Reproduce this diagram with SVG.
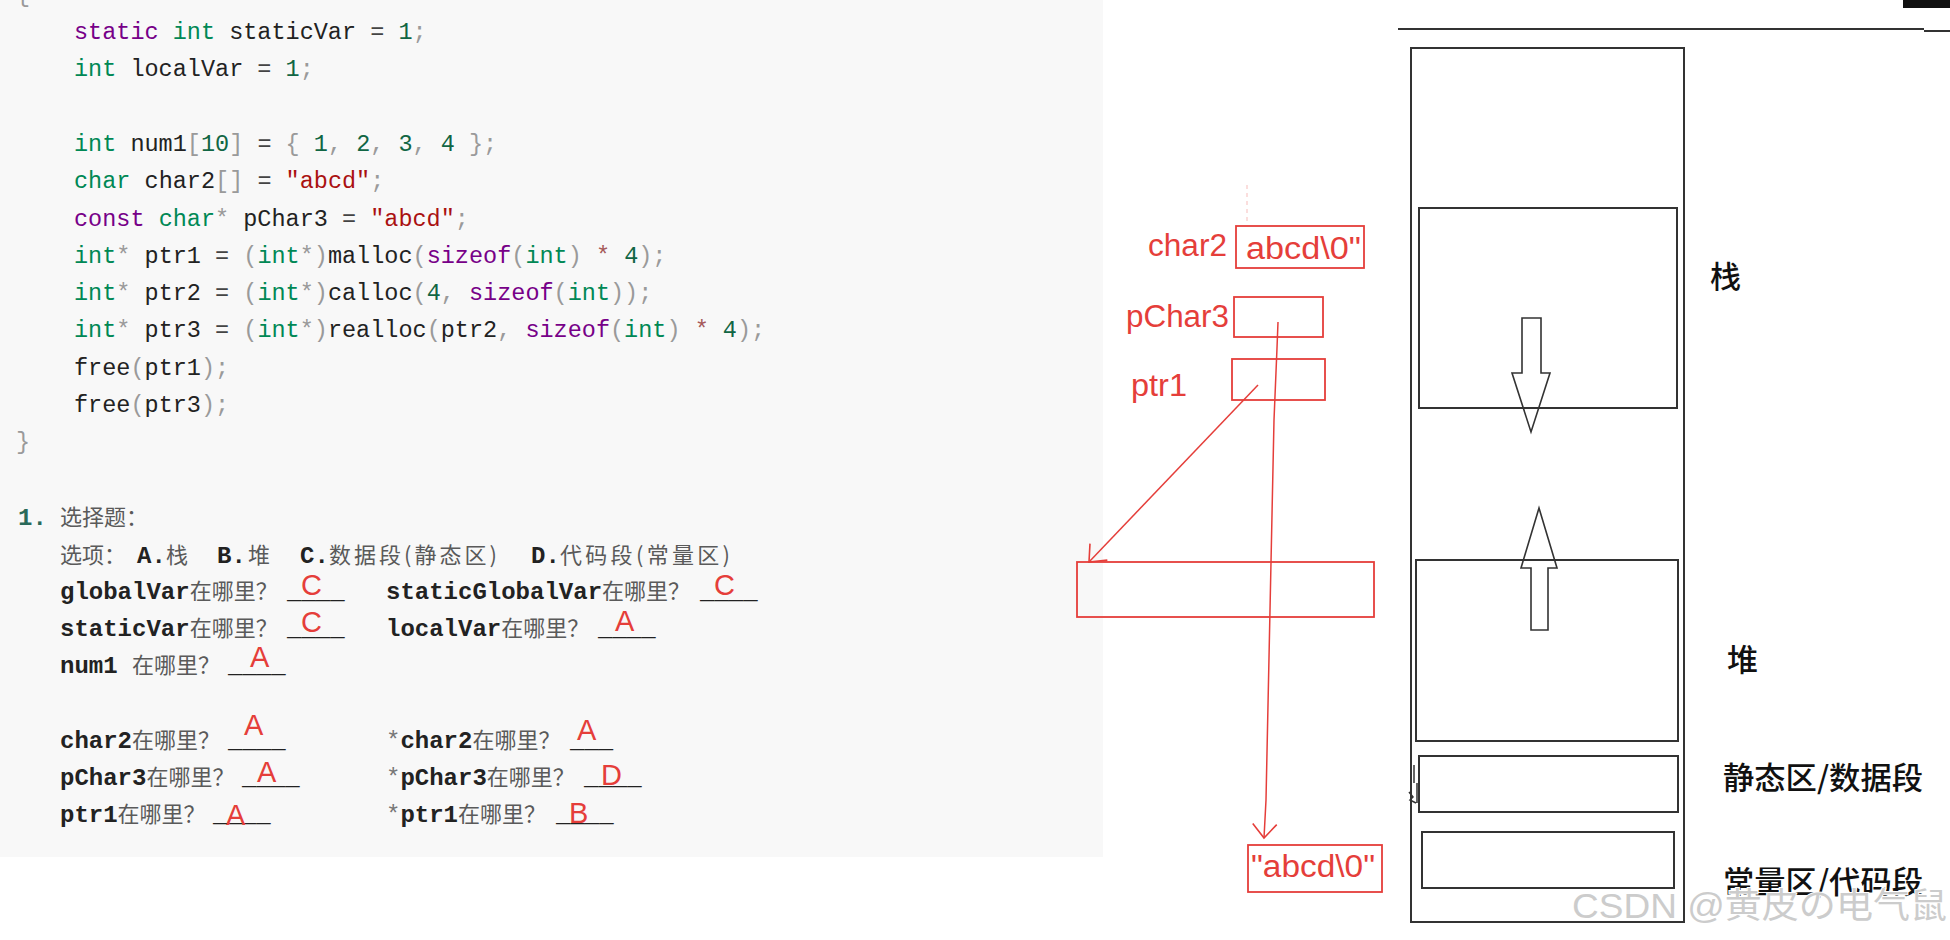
<svg xmlns="http://www.w3.org/2000/svg" width="1950" height="940" viewBox="0 0 1950 940">
<style>
.code{font-family:"Liberation Mono","DejaVu Sans Mono",monospace;font-size:23.5px;fill:#222;white-space:pre}
.kw{fill:#770088}.ty{fill:#008855}.nu{fill:#116644}.st{fill:#aa1111}.pu{fill:#9a9a9a}.op{fill:#a65a5a}.eq{fill:#444}
.qa{font-family:"Liberation Mono","DejaVu Sans Mono",monospace;font-size:24px;font-weight:bold;fill:#222;white-space:pre}
.qc{font-family:"Noto Sans CJK SC","Noto Sans CJK JP",sans-serif;font-size:22px;fill:#5a5a5a;font-weight:normal}
.star{font-weight:normal;fill:#777}
.ans{font-family:"Liberation Sans","Noto Sans",sans-serif;font-size:29px;fill:#e53e3a}
.blk{fill:none;stroke:#333;stroke-width:2}
.red{fill:none;stroke:#e53e3a;stroke-width:1.8}
.rt{font-family:"Liberation Sans","Noto Sans",sans-serif;font-size:31px;fill:#e53e3a}
.lbl{font-family:"Noto Sans CJK SC","Noto Sans CJK JP",sans-serif;font-size:31px;font-weight:500;fill:#111}
.wm{font-family:"Liberation Sans","Noto Sans CJK SC","Noto Sans CJK JP",sans-serif;font-size:35px;fill:#cccccc;stroke:#fff;stroke-width:2;paint-order:stroke}
</style>
<defs>
<marker id="vh" markerUnits="userSpaceOnUse" markerWidth="30" markerHeight="30" refX="0" refY="0" viewBox="-20 -15 25 30" orient="auto">
<path d="M-14,-12 L0,0 L-14,12" fill="none" stroke="#e53e3a" stroke-width="1.6"/>
</marker>
</defs>
<rect x="0" y="0" width="1950" height="940" fill="#fff"/>
<rect x="0" y="0" width="1103" height="857" fill="#f8f8f8"/>

<g id="code" xml:space="preserve">
<text class="code" x="16" y="2"><tspan class="pu">{</tspan></text>
<text class="code" x="74" y="39"><tspan class="kw">static</tspan> <tspan class="ty">int</tspan> staticVar <tspan class="eq">=</tspan> <tspan class="nu">1</tspan><tspan class="pu">;</tspan></text>
<text class="code" x="74" y="76.3"><tspan class="ty">int</tspan> localVar <tspan class="eq">=</tspan> <tspan class="nu">1</tspan><tspan class="pu">;</tspan></text>
<text class="code" x="74" y="150.9"><tspan class="ty">int</tspan> num1<tspan class="pu">[</tspan><tspan class="nu">10</tspan><tspan class="pu">]</tspan> <tspan class="eq">=</tspan> <tspan class="pu">{</tspan> <tspan class="nu">1</tspan><tspan class="pu">,</tspan> <tspan class="nu">2</tspan><tspan class="pu">,</tspan> <tspan class="nu">3</tspan><tspan class="pu">,</tspan> <tspan class="nu">4</tspan> <tspan class="pu">};</tspan></text>
<text class="code" x="74" y="188.2"><tspan class="ty">char</tspan> char2<tspan class="pu">[]</tspan> <tspan class="eq">=</tspan> <tspan class="st">"abcd"</tspan><tspan class="pu">;</tspan></text>
<text class="code" x="74" y="225.5"><tspan class="kw">const</tspan> <tspan class="ty">char</tspan><tspan class="pu">*</tspan> pChar3 <tspan class="eq">=</tspan> <tspan class="st">"abcd"</tspan><tspan class="pu">;</tspan></text>
<text class="code" x="74" y="262.8"><tspan class="ty">int</tspan><tspan class="pu">*</tspan> ptr1 <tspan class="eq">=</tspan> <tspan class="pu">(</tspan><tspan class="ty">int</tspan><tspan class="pu">*)</tspan>malloc<tspan class="pu">(</tspan><tspan class="kw">sizeof</tspan><tspan class="pu">(</tspan><tspan class="ty">int</tspan><tspan class="pu">)</tspan> <tspan class="op">*</tspan> <tspan class="nu">4</tspan><tspan class="pu">);</tspan></text>
<text class="code" x="74" y="300.1"><tspan class="ty">int</tspan><tspan class="pu">*</tspan> ptr2 <tspan class="eq">=</tspan> <tspan class="pu">(</tspan><tspan class="ty">int</tspan><tspan class="pu">*)</tspan>calloc<tspan class="pu">(</tspan><tspan class="nu">4</tspan><tspan class="pu">,</tspan> <tspan class="kw">sizeof</tspan><tspan class="pu">(</tspan><tspan class="ty">int</tspan><tspan class="pu">));</tspan></text>
<text class="code" x="74" y="337.4"><tspan class="ty">int</tspan><tspan class="pu">*</tspan> ptr3 <tspan class="eq">=</tspan> <tspan class="pu">(</tspan><tspan class="ty">int</tspan><tspan class="pu">*)</tspan>realloc<tspan class="pu">(</tspan>ptr2<tspan class="pu">,</tspan> <tspan class="kw">sizeof</tspan><tspan class="pu">(</tspan><tspan class="ty">int</tspan><tspan class="pu">)</tspan> <tspan class="op">*</tspan> <tspan class="nu">4</tspan><tspan class="pu">);</tspan></text>
<text class="code" x="74" y="374.7">free<tspan class="pu">(</tspan>ptr1<tspan class="pu">);</tspan></text>
<text class="code" x="74" y="412">free<tspan class="pu">(</tspan>ptr3<tspan class="pu">);</tspan></text>
<text class="code" x="16" y="449.3"><tspan class="pu">}</tspan></text>
</g>

<g id="questions" xml:space="preserve">
<text x="18" y="525"><tspan class="qa" style="fill:#2a6a5a">1.</tspan><tspan class="qc" x="60">选择题：</tspan></text>
<text y="563"><tspan class="qc" x="60">选项：</tspan><tspan class="qa" x="137">A.</tspan><tspan class="qc" x="166">栈</tspan><tspan class="qa" x="217">B.</tspan><tspan class="qc" x="248">堆</tspan><tspan class="qa" x="300">C.</tspan></text>
<text class="qc" x="329" y="563" textLength="168" lengthAdjust="spacing">数据段(静态区)</text>
<text class="qa" x="531" y="563">D.</text>
<text class="qc" x="560" y="563" textLength="170" lengthAdjust="spacing">代码段(常量区)</text>

<text y="599"><tspan class="qa" x="60">globalVar</tspan><tspan class="qc">在哪里？</tspan><tspan class="qa" x="287">____</tspan></text>
<text y="599"><tspan class="qa" x="386">staticGlobalVar</tspan><tspan class="qc">在哪里？</tspan><tspan class="qa" x="700">____</tspan></text>
<text y="636"><tspan class="qa" x="60">staticVar</tspan><tspan class="qc">在哪里？</tspan><tspan class="qa" x="287">____</tspan></text>
<text y="636"><tspan class="qa" x="386">localVar</tspan><tspan class="qc">在哪里？</tspan><tspan class="qa" x="598">____</tspan></text>
<text y="673"><tspan class="qa" x="60">num1 </tspan><tspan class="qc">在哪里？</tspan><tspan class="qa" x="228">____</tspan></text>
<text y="748"><tspan class="qa" x="60">char2</tspan><tspan class="qc">在哪里？</tspan><tspan class="qa" x="228">____</tspan></text>
<text y="748"><tspan class="qa star" x="386">*</tspan><tspan class="qa">char2</tspan><tspan class="qc">在哪里？</tspan><tspan class="qa" x="570">___</tspan></text>
<text y="785"><tspan class="qa" x="60">pChar3</tspan><tspan class="qc">在哪里？</tspan><tspan class="qa" x="242">____</tspan></text>
<text y="785"><tspan class="qa star" x="386">*</tspan><tspan class="qa">pChar3</tspan><tspan class="qc">在哪里？</tspan><tspan class="qa" x="584">____</tspan></text>
<text y="822"><tspan class="qa" x="60">ptr1</tspan><tspan class="qc">在哪里？</tspan><tspan class="qa" x="213">____</tspan></text>
<text y="822"><tspan class="qa star" x="386">*</tspan><tspan class="qa">ptr1</tspan><tspan class="qc">在哪里？</tspan><tspan class="qa" x="556">____</tspan></text>
</g>

<g id="answers">
<text class="ans" x="301" y="595">C</text>
<text class="ans" x="714" y="595">C</text>
<text class="ans" x="301" y="632">C</text>
<text class="ans" x="615" y="631">A</text>
<text class="ans" x="250" y="667">A</text>
<text class="ans" x="244" y="735">A</text>
<text class="ans" x="577" y="740">A</text>
<text class="ans" x="257" y="782">A</text>
<text class="ans" x="601" y="785">D</text>
<text class="ans" x="226" y="825">A</text>
<text class="ans" x="569" y="823">B</text>
</g>

<g id="memory-layout">
<path class="blk" d="M1398,29 L1924,29 M1924,31 L1950,31"/>
<rect x="1903" y="0" width="47" height="8" fill="#111"/>
<rect id="outer" class="blk" x="1411" y="48" width="273" height="874"/>
<g id="stack"><rect class="blk" x="1419" y="208" width="258" height="200"/>
<text class="lbl" x="1710" y="288">栈</text></g>
<g id="heap"><rect class="blk" x="1416" y="560" width="262" height="181"/>
<text class="lbl" x="1727" y="671">堆</text></g>
<g id="static"><rect class="blk" x="1419" y="756" width="259" height="56"/>
<text class="lbl" x="1723" y="789" textLength="200" lengthAdjust="spacingAndGlyphs">静态区/数据段</text></g>
<g id="const"><rect class="blk" x="1422" y="832" width="252" height="56"/>
<text class="lbl" x="1723" y="893" textLength="200" lengthAdjust="spacingAndGlyphs">常量区/代码段</text></g>
<polygon id="stack-grow" fill="none" stroke="#333" stroke-width="1.6" points="1522,318 1541,318 1541,373 1550,373 1531,432 1512,373 1522,373"/>
<polygon id="heap-grow" fill="none" stroke="#333" stroke-width="1.6" points="1539,508 1557,568 1548,568 1548,630 1531,630 1531,568 1521,568"/>
<path d="M1414,765 L1414,783 M1417,783 L1417,803 M1409,792 L1413,797 L1410,800 L1416,803" fill="none" stroke="#333" stroke-width="1.5"/>
</g>

<g id="char2">
<text class="rt" x="1148" y="256" textLength="79" lengthAdjust="spacingAndGlyphs">char2</text>
<rect class="red" x="1236" y="226" width="128" height="42"/>
<text class="rt" x="1246" y="259" textLength="115" lengthAdjust="spacingAndGlyphs">abcd\0"</text>
<path d="M1247,185 L1247,222" stroke="#e53e3a" stroke-opacity="0.35" stroke-width="1" stroke-dasharray="4 4"/>
</g>
<g id="pChar3">
<text class="rt" x="1126" y="327" textLength="103" lengthAdjust="spacingAndGlyphs">pChar3</text>
<rect class="red" x="1234" y="297" width="89" height="40"/>
</g>
<g id="ptr1">
<text class="rt" x="1131" y="396" textLength="56" lengthAdjust="spacingAndGlyphs">ptr1</text>
<rect class="red" x="1232" y="359" width="93" height="41"/>
</g>
<g id="heap-block">
<rect class="red" x="1077" y="562" width="297" height="55"/>
</g>
<g id="const-str">
<rect class="red" x="1248" y="845" width="134" height="47"/>
<text class="rt" x="1251" y="877" textLength="124" lengthAdjust="spacingAndGlyphs">"abcd\0"</text>
</g>

<g id="connectors">
<line x1="1258" y1="385" x2="1089" y2="562" stroke="#e53e3a" stroke-width="1.5" marker-end="url(#vh)"/>
<polyline points="1278,322 1277,348 1274,420 1266,800 1264,838" fill="none" stroke="#e53e3a" stroke-width="1.5" marker-end="url(#vh)"/>
</g>

<text class="wm" x="1572" y="918" textLength="375" lengthAdjust="spacingAndGlyphs">CSDN @黄皮の电气鼠</text>
</svg>
